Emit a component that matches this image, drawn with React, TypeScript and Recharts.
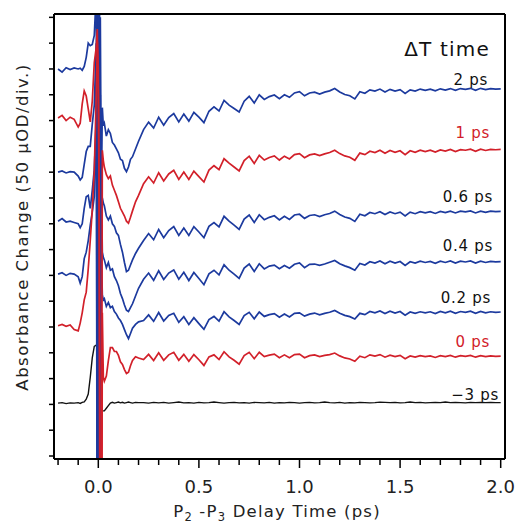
import { Line, LineChart, XAxis, YAxis } from "recharts";

// delay time (ps), shared by all traces
const TIME = [
  -0.2, -0.18, -0.16, -0.14, -0.12, -0.1, -0.09, -0.08, -0.07, -0.06, -0.05, -0.04, -0.03, -0.02,
  -0.01, -0.005, 0, 0.005, 0.01, 0.015, 0.02, 0.025,
  0.03, 0.04, 0.05, 0.06, 0.07, 0.08, 0.09, 0.1, 0.11, 0.12, 0.13, 0.14, 0.15, 0.16, 0.17, 0.185, 0.2,
  0.225, 0.25, 0.275, 0.3, 0.325, 0.35, 0.375, 0.4,
  0.425, 0.45, 0.475, 0.5, 0.525, 0.55, 0.575, 0.6,
  0.625, 0.65, 0.675, 0.7, 0.725, 0.75, 0.775, 0.8,
  0.825, 0.85, 0.875, 0.9, 0.925, 0.95, 0.975, 1.0,
  1.025, 1.05, 1.075, 1.1, 1.125, 1.15, 1.175, 1.2,
  1.225, 1.25, 1.275, 1.3, 1.325, 1.35, 1.375, 1.4,
  1.425, 1.45, 1.475, 1.5, 1.525, 1.55, 1.575, 1.6,
  1.625, 1.65, 1.675, 1.7, 1.725, 1.75, 1.775, 1.8,
  1.825, 1.85, 1.875, 1.9, 1.925, 1.95, 1.975, 2.0,
];

// absorbance change in divisions (50 uOD/div), relative to each trace's own baseline
const DT_2PS = [
  0, -0.12, 0.05, -0.02, 0.04, 0.0, 0.03, -0.05, 0.1, 0.45, 1.0, 0.9, 0.95, 1.3,
  3, -20, 3, -20, 2, -5, -1.5, -2.2,
  -2.1, -2.6, -2.35, -2.5, -2.85, -2.95, -3.1, -3.25, -3.5, -3.55, -3.85, -3.98, -3.8, -3.5, -3.4, -3.1, -2.8,
  -2.35, -2.06, -2.29, -1.87, -2.18, -1.88, -1.73, -2.05,
  -1.75, -2.02, -1.68, -1.87, -2.08, -1.64, -1.47, -1.63,
  -1.22, -1.4, -1.53, -1.67, -1.25, -1.06, -1.32, -1.0,
  -1.18, -1.07, -1.01, -1.15, -1.0, -1.1, -0.93, -0.88,
  -1.04, -0.93, -0.9, -0.97, -0.9, -0.85, -0.76, -0.89,
  -0.99, -1.04, -1.16, -0.88, -0.94, -0.81, -0.86, -0.78,
  -0.89, -0.79, -0.86, -0.8, -0.95, -0.81, -0.86, -0.78,
  -0.83, -0.78, -0.85, -0.77, -0.82, -0.76, -0.83, -0.76,
  -0.79, -0.75, -0.83, -0.75, -0.8, -0.76, -0.78, -0.77,
];

const DT_1PS = [
  0.05, 0.15, -0.05, 0.08, 0.0, -0.3, -0.15, 0.6, 1.1, 0.9, 0.4, -0.1, 0.7, 2.2,
  2.8, 3.5, 1.0, -3, -20, -20, -1.2, -1.6,
  -1.85, -2.15, -2.3, -2.2, -2.55, -2.75, -2.95, -3.2, -3.45, -3.6, -3.75, -3.95, -4.03, -3.8, -3.55, -3.2, -2.95,
  -2.5, -2.23, -2.47, -2.07, -2.39, -2.12, -1.98, -2.33,
  -2.04, -2.33, -2.01, -2.22, -2.43, -1.97, -1.8, -1.95,
  -1.53, -1.7, -1.85, -2.0, -1.6, -1.43, -1.71, -1.4,
  -1.58, -1.48, -1.42, -1.58, -1.43, -1.54, -1.37, -1.33,
  -1.49, -1.38, -1.34, -1.41, -1.34, -1.29, -1.2, -1.33,
  -1.42, -1.47, -1.59, -1.31, -1.37, -1.24, -1.29, -1.2,
  -1.32, -1.21, -1.28, -1.22, -1.37, -1.22, -1.28, -1.2,
  -1.25, -1.2, -1.27, -1.19, -1.23, -1.17, -1.25, -1.18,
  -1.2, -1.16, -1.24, -1.16, -1.21, -1.17, -1.18, -1.17,
];

const DT_06PS = [
  0, 0.05, -0.03, 0.02, 0.0, -0.15, -0.3, -0.2, 0.3, 0.8, 1.0, 1.0, 1.85, 2.6,
  5, -20, 8, -20, 3, -3, -1.0, -1.2,
  -1.3, -1.7, -1.85, -1.7, -2.0, -2.1, -2.35, -2.45, -2.8, -3.1, -3.5, -3.85, -3.8, -3.6, -3.4, -3.15, -2.95,
  -2.65, -2.38, -2.62, -2.22, -2.54, -2.26, -2.11, -2.45,
  -2.16, -2.45, -2.11, -2.32, -2.54, -2.1, -1.95, -2.12,
  -1.71, -1.9, -2.05, -2.22, -1.82, -1.66, -1.95, -1.65,
  -1.84, -1.75, -1.69, -1.85, -1.71, -1.83, -1.66, -1.63,
  -1.79, -1.68, -1.65, -1.72, -1.65, -1.6, -1.51, -1.64,
  -1.74, -1.79, -1.91, -1.63, -1.69, -1.56, -1.61, -1.53,
  -1.64, -1.54, -1.61, -1.55, -1.7, -1.55, -1.61, -1.53,
  -1.58, -1.53, -1.6, -1.52, -1.57, -1.51, -1.58, -1.51,
  -1.54, -1.5, -1.58, -1.51, -1.56, -1.51, -1.53, -1.52,
];

const DT_04PS = [
  0, 0.1, -0.03, 0.0, -0.05, -0.1, -0.25, -0.1, 0.5, 0.95, 1.0, 0.5, 1.2, 2.0,
  4, 9, -20, 10, -20, 2, -1.2, -1.4,
  -1.5, -1.8, -1.6, -1.9, -1.85, -2.15, -2.3, -2.5, -2.8, -3.0, -3.25, -3.45, -3.5, -3.35, -3.2, -2.9, -2.6,
  -2.25, -2.01, -2.29, -1.92, -2.26, -2.01, -1.89, -2.25,
  -1.98, -2.3, -1.99, -2.22, -2.46, -2.04, -1.9, -2.08,
  -1.69, -1.9, -2.05, -2.22, -1.82, -1.66, -1.95, -1.65,
  -1.85, -1.74, -1.7, -1.84, -1.72, -1.82, -1.67, -1.62,
  -1.8, -1.67, -1.66, -1.71, -1.66, -1.59, -1.52, -1.65,
  -1.73, -1.8, -1.9, -1.64, -1.7, -1.57, -1.62, -1.54,
  -1.65, -1.55, -1.62, -1.56, -1.71, -1.57, -1.62, -1.55,
  -1.6, -1.56, -1.63, -1.55, -1.6, -1.54, -1.62, -1.55,
  -1.58, -1.54, -1.62, -1.55, -1.6, -1.56, -1.58, -1.57,
];

const DT_02PS = [
  0, 0.05, -0.05, 0.03, 0.0, -0.1, -0.35, -0.1, 0.6, 0.85, 1.3, 1.9, 2.4, 3.0,
  5, 11, -20, 12, -20, 1, -0.8, -1.0,
  -0.95, -1.25, -1.1, -1.3, -1.25, -1.45, -1.55, -1.7, -1.8, -1.95, -2.15, -2.35, -2.5, -2.3, -2.1, -1.95, -1.85,
  -1.8, -1.58, -1.83, -1.49, -1.82, -1.6, -1.52, -1.87,
  -1.65, -1.95, -1.69, -1.92, -2.14, -1.76, -1.64, -1.82,
  -1.46, -1.66, -1.8, -1.95, -1.61, -1.48, -1.73, -1.47,
  -1.64, -1.57, -1.53, -1.67, -1.55, -1.66, -1.52, -1.5,
  -1.63, -1.55, -1.51, -1.58, -1.52, -1.48, -1.41, -1.52,
  -1.6, -1.65, -1.74, -1.52, -1.57, -1.45, -1.5, -1.43,
  -1.53, -1.44, -1.51, -1.45, -1.59, -1.47, -1.52, -1.46,
  -1.5, -1.46, -1.53, -1.45, -1.5, -1.44, -1.52, -1.45,
  -1.48, -1.44, -1.52, -1.45, -1.5, -1.46, -1.48, -1.47,
];

const DT_0PS = [
  0, 0.05, -0.02, 0.03, -0.15, -0.2, 0.1, 0.5, 1.0, 1.3, 2.2, 3.3, 4.5, 6.0,
  9, 11, 10, 3, -20, -20, 0.5, -2.0,
  -2.15, -1.95, -1.35, -0.85, -0.85, -1.0, -1.0, -1.15, -1.4, -1.5, -1.7, -1.85, -1.8, -1.55, -1.35, -1.2, -1.25,
  -1.31, -1.11, -1.35, -1.05, -1.34, -1.13, -1.03, -1.34,
  -1.11, -1.38, -1.12, -1.32, -1.54, -1.21, -1.13, -1.31,
  -1.01, -1.21, -1.34, -1.49, -1.16, -1.03, -1.28, -1.03,
  -1.2, -1.14, -1.1, -1.24, -1.13, -1.24, -1.12, -1.1,
  -1.24, -1.16, -1.13, -1.2, -1.15, -1.12, -1.06, -1.17,
  -1.25, -1.29, -1.38, -1.18, -1.24, -1.13, -1.18, -1.12,
  -1.22, -1.14, -1.2, -1.15, -1.28, -1.17, -1.22, -1.16,
  -1.2, -1.17, -1.23, -1.16, -1.2, -1.15, -1.22, -1.16,
  -1.19, -1.15, -1.22, -1.16, -1.2, -1.17, -1.19, -1.18,
];

const DT_M3PS = [
  0, 0.02, -0.02, 0.01, 0, 0.02, -0.01, 0.03, 0.05, 0.15, 0.35, 1.0, 1.75, 2.2,
  2.25, 2.3, 0.5, -0.3, -0.3, -0.3, -0.3, -0.3,
  -0.3, -0.2, -0.1, 0.0, 0.03, 0.0, 0.02, 0.04, 0.01, 0.03, 0.0, 0.02, 0.04, 0.02, 0.0, 0.03, 0.02,
  0.02, 0.0, 0.03, 0.01, 0.03, 0.0, 0.02, 0.04,
  0.01, 0.02, 0.0, 0.03, 0.01, 0.02, 0.04, 0.02,
  0.0, 0.02, 0.03, 0.01, 0.02, 0.0, 0.03, 0.02,
  0.01, 0.03, 0.0, 0.02, 0.01, 0.03, 0.02, 0.0,
  0.02, 0.03, 0.01, 0.02, 0.04, 0.02, 0.01, 0.03,
  0.0, 0.02, 0.01, 0.03, 0.02, 0.01, 0.02, 0.04,
  0.03, 0.02, 0.03, 0.01, 0.02, 0.04, 0.02, 0.03,
  0.01, 0.02, 0.03, 0.02, 0.04, 0.02, 0.03, 0.02,
  0.01, 0.03, 0.02, 0.03, 0.02, 0.03, 0.02, 0.02,
];

// waterfall offsets (div) for each ΔT trace
const DELAY_LABELS = ["−3 ps", "0 ps", "0.2 ps", "0.4 ps", "0.6 ps", "1 ps", "2 ps"];
const OFFSETS = [2.05, 5.05, 7.05, 9.1, 11.0, 13.05, 15.0];
const VALUES = [DT_M3PS, DT_0PS, DT_02PS, DT_04PS, DT_06PS, DT_1PS, DT_2PS];

const X_TICKS = [
  -0.2, -0.1, 0, 0.1, 0.2, 0.3, 0.4, 0.5, 0.6, 0.7, 0.8, 0.9, 1.0,
  1.1, 1.2, 1.3, 1.4, 1.5, 1.6, 1.7, 1.8, 1.9, 2.0,
];
const Y_TICKS = [0, 1, 2, 3, 4, 5, 6, 7, 8, 9, 10, 11, 12, 13, 14, 15, 16, 17];

const BLUE = "#1c3a9e";
const RED = "#d2202a";
const BLACK = "#111111";
const COLORS = [BLACK, RED, BLUE, BLUE, BLUE, RED, BLUE];
// blue traces first so the red ones stay visible at the pump overlap
const DRAW_ORDER = [0, 2, 3, 4, 6, 1, 5];

const FONT = "'DejaVu Sans', 'Liberation Sans', Arial, sans-serif";

const rows = TIME.map((t, i) => {
  const row: Record<string, number> = { t };
  VALUES.forEach((vals, s) => {
    row[`s${s}`] = vals[i] + OFFSETS[s];
  });
  return row;
});

const XTick = (props: any) => {
  const { x, y, payload } = props;
  const v = payload.value as number;
  const major = Math.abs(v * 2 - Math.round(v * 2)) < 1e-6;
  return (
    <g>
      <line x1={x} x2={x} y1={y} y2={y + (major ? 9 : 6)} stroke="#000" strokeWidth={1.5} />
      {major && (
        <text x={x} y={y + 34} textAnchor="middle" fontSize={18} fontFamily={FONT} fill="#222">
          {v.toFixed(1)}
        </text>
      )}
    </g>
  );
};

const labelSpots = [
  { x: 499, y: 400 },
  { x: 490, y: 347 },
  { x: 491, y: 303 },
  { x: 493, y: 251 },
  { x: 493, y: 202 },
  { x: 490, y: 138 },
  { x: 488, y: 85 },
];

export default function App() {
  return (
    <div style={{ position: "absolute", left: 0, top: 0, width: 516, height: 523, background: "#fff" }}>
      <LineChart width={516} height={523} data={rows} margin={{ top: 13, right: 10, left: 44, bottom: 24 }}>
        <XAxis
          dataKey="t"
          type="number"
          domain={[-0.2202, 2.0214]}
          allowDataOverflow
          ticks={X_TICKS}
          tick={<XTick />}
          tickLine={false}
          tickSize={0}
          tickMargin={0}
          height={40}
          interval={0}
          axisLine={{ stroke: "#000", strokeWidth: 2 }}
        />
        <XAxis
          xAxisId="top"
          orientation="top"
          type="number"
          domain={[-0.2202, 2.0214]}
          height={1}
          tick={false}
          tickLine={false}
          axisLine={{ stroke: "#000", strokeWidth: 2 }}
        />
        <YAxis
          type="number"
          domain={[-0.116, 17.13]}
          allowDataOverflow
          ticks={Y_TICKS}
          width={10}
          tickSize={5}
          tickFormatter={() => ""}
          tickLine={{ stroke: "#000", strokeWidth: 1.5 }}
          axisLine={{ stroke: "#000", strokeWidth: 2 }}
          interval={0}
        />
        <YAxis
          yAxisId="right"
          orientation="right"
          type="number"
          domain={[-0.116, 17.13]}
          width={1}
          tick={false}
          tickLine={false}
          axisLine={{ stroke: "#000", strokeWidth: 2 }}
        />
        {DRAW_ORDER.map((s) => (
          <Line
            key={s}
            type="linear"
            dataKey={`s${s}`}
            stroke={COLORS[s]}
            strokeWidth={s === 0 ? 1.4 : 1.7}
            dot={false}
            activeDot={false}
            isAnimationActive={false}
          />
        ))}
      </LineChart>
      <svg
        width={516}
        height={523}
        style={{ position: "absolute", left: 0, top: 0, pointerEvents: "none" }}
        fontFamily={FONT}
      >
        <text x={490} y={56} textAnchor="end" fontSize={20} fill="#111" letterSpacing={1.2}>
          ΔT time
        </text>
        {DELAY_LABELS.map((lab, s) => (
          <text
            key={lab}
            x={labelSpots[s].x}
            y={labelSpots[s].y}
            textAnchor="end"
            fontSize={15}
            letterSpacing={0.7}
            fill={COLORS[s] === RED ? RED : "#111"}
          >
            {lab}
          </text>
        ))}
        <text
          transform="translate(28,227) rotate(-90)"
          textAnchor="middle"
          fontSize={16.5}
          letterSpacing={1.5}
          fill="#222"
        >
          Absorbance Change (50 μOD/div.)
        </text>
        <text x={277} y={517} textAnchor="middle" fontSize={16.5} letterSpacing={1.2} fill="#222">
          <tspan>P</tspan>
          <tspan fontSize={11.5} dy={4}>2</tspan>
          <tspan dy={-4}> -P</tspan>
          <tspan fontSize={11.5} dy={4}>3</tspan>
          <tspan dy={-4}> Delay Time (ps)</tspan>
        </text>
      </svg>
    </div>
  );
}
